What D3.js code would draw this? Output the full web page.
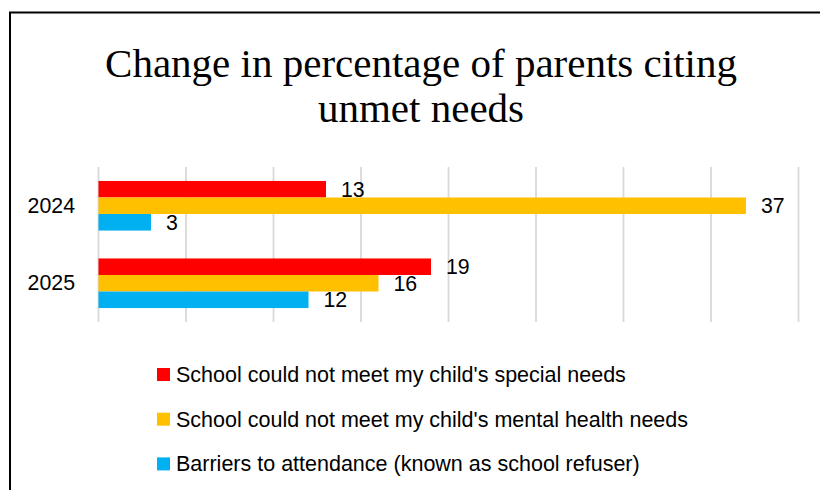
<!DOCTYPE html>
<html>
<head>
<meta charset="utf-8">
<script src="https://cdn.jsdelivr.net/npm/d3@7/dist/d3.min.js"></script>
<style>
  html, body { margin: 0; padding: 0; background: #ffffff; }
  svg { display: block; }
</style>
</head>
<body>
<svg id="chart" width="820" height="490"></svg>
<script>
// Survey years shown as bar groups
const categories = ["2024", "2025"];

// Reasons cited by parents
const seriesNames = [
  "School could not meet my child's special needs",
  "School could not meet my child's mental health needs",
  "Barriers to attendance (known as school refuser)"
];

// Percentage of parents citing each reason, per year
const specialNeeds = [13, 19];
const mentalHealth = [37, 16];
const barriers = [3, 12];

// Value axis gridlines
const gridTicks = [0, 5, 10, 15, 20, 25, 30, 35, 40];

const titleLines = ["Change in percentage of parents citing", "unmet needs"];

const colors = ["#FF0000", "#FFC000", "#00B0F0"];
const seriesValues = [specialNeeds, mentalHealth, barriers];

const sansFont = "'Liberation Sans', Arial, sans-serif";
const labelSize = 21.3;
const legendSize = 21.5;

const svg = d3.select("#chart");

// Outer chart frame
svg.append("rect")
  .attr("x", 10).attr("y", 12.5)
  .attr("width", 830).attr("height", 500)
  .attr("fill", "#ffffff")
  .attr("stroke", "#000000")
  .attr("stroke-width", 2);

// Title
const title = svg.append("text")
  .attr("text-anchor", "middle")
  .attr("font-family", "'Liberation Serif', 'Times New Roman', serif")
  .attr("font-size", 41)
  .attr("fill", "#000000");
titleLines.forEach((line, i) => {
  title.append("tspan")
    .attr("x", 421)
    .attr("y", 77 + i * 45)
    .text(line);
});

// Scales
const x = d3.scaleLinear().domain([0, 40]).range([98.5, 798.5]);
const y = d3.scaleBand().domain(categories).range([167, 322])
  .paddingInner(0.36).paddingOuter(0.18);
const ySub = d3.scaleBand().domain(d3.range(seriesNames.length))
  .range([0, y.bandwidth()]);

// Vertical gridlines
svg.append("g").selectAll("line")
  .data(gridTicks)
  .join("line")
  .attr("x1", d => x(d)).attr("x2", d => x(d))
  .attr("y1", 167).attr("y2", 322)
  .attr("stroke", "#d9d9d9")
  .attr("stroke-width", 1.8);

// Category axis labels
const yAxis = d3.axisLeft(y).tickSize(0).tickPadding(0);
const yAxisG = svg.append("g")
  .attr("transform", "translate(75,0)")
  .call(yAxis);
yAxisG.select(".domain").remove();
yAxisG.selectAll("text")
  .attr("font-family", sansFont)
  .attr("font-size", labelSize)
  .attr("fill", "#000000");

// Flattened bar records
const bars = [];
categories.forEach((cat, ci) => {
  seriesValues.forEach((vals, si) => {
    bars.push({ cat, si, value: vals[ci] });
  });
});

// Bars
svg.append("g").selectAll("rect")
  .data(bars)
  .join("rect")
  .attr("x", x(0))
  .attr("y", d => y(d.cat) + ySub(d.si))
  .attr("width", d => x(d.value) - x(0))
  .attr("height", ySub.bandwidth())
  .attr("fill", d => colors[d.si]);

// Value labels
svg.append("g").selectAll("text")
  .data(bars)
  .join("text")
  .attr("x", d => x(d.value) + 15)
  .attr("y", d => y(d.cat) + ySub(d.si) + ySub.bandwidth() / 2)
  .attr("dy", "0.36em")
  .attr("font-family", sansFont)
  .attr("font-size", labelSize)
  .attr("fill", "#000000")
  .text(d => d.value);

// Legend
const legend = svg.append("g").selectAll("g")
  .data(seriesNames)
  .join("g")
  .attr("transform", (d, i) => `translate(157, ${374.5 + i * 44.7})`);
legend.append("rect")
  .attr("x", 0).attr("y", -6.5)
  .attr("width", 13).attr("height", 13)
  .attr("fill", (d, i) => colors[i]);
legend.append("text")
  .attr("x", 19)
  .attr("y", 0)
  .attr("dy", "0.34em")
  .attr("font-family", sansFont)
  .attr("font-size", legendSize)
  .attr("fill", "#000000")
  .text(d => d);
</script>
</body>
</html>
